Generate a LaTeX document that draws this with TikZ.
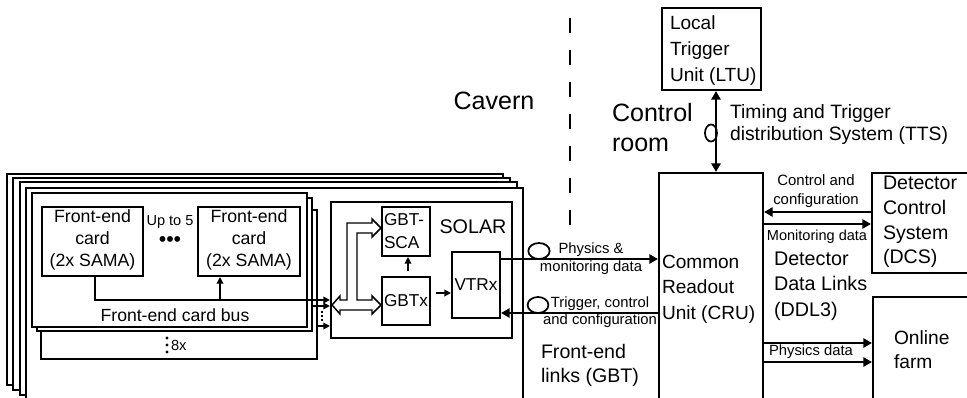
\documentclass[tikz,border=0pt]{standalone}
\usepackage{fontspec}
\setmainfont{Liberation Sans}
\usetikzlibrary{arrows.meta,fit,calc}
\newcommand\fsz[2]{\fontsize{#1pt}{#2pt}\selectfont}
\begin{document}
\begin{tikzpicture}[x=0.75pt,y=-0.75pt,
  box/.style={draw, line width=1.6pt, fill=white, inner sep=0pt},
  arr/.style={line width=1.5pt, -{Triangle[length=6.5pt,width=7pt]}},
  darr/.style={line width=1.5pt, {Triangle[length=6.5pt,width=7pt]}-{Triangle[length=6.5pt,width=7pt]}},
  sarr/.style={line width=1.3pt, -{Triangle[length=5pt,width=5pt]}},
  txt/.style={inner sep=0pt, outer sep=0pt},
  pipe/.style={draw, line width=1.1pt, fill=white, line join=miter},
  link/.style={draw, line width=1.3pt}
]
\useasboundingbox (0,0) rectangle (967,397);
\clip (0,0) rectangle (967,397);
\fill[white] (0,0) rectangle (967,397);

% big stacked boxes (cavern crates)
\node[box, fit={(7,174) (503,385)}] (bigA) {};
\node[box, fit={(13,178) (510,390)}] (bigB) {};
\node[box, fit={(20,182) (517,395)}] (bigC) {};
\node[box, fit={(26,188) (523,410)}] (bigD) {};

% cavern / control room separation
\draw[line width=1.5pt, dash pattern=on 11.25pt off 12.75pt] (570,18) -- (570,225);

% front-end stacks
\node[box, fit={(41,210) (317,359)}] (fe3) {};
\node[box, fit={(37,198) (312,331)}] (fe2) {};
\node[box, fit={(32,193) (307,327)}] (fe1) {};

% front-end cards
\node[box, fit={(42,207) (143,276)}] (card1) {};
\node[box, fit={(198,207) (300,276)}] (card2) {};
\node[txt, font=\fsz{13.3}{16.5}, align=center] (card1t) at (92.5,240) {Front-end\\card\\(2x SAMA)};
\node[txt, font=\fsz{13.3}{16.5}, align=center] (card2t) at (249,240) {Front-end\\card\\(2x SAMA)};
\node[txt, font=\fsz{10.9}{13}] (upto) at (170,222) {Up to 5};
\node[txt, font=\fsz{16}{18}] (dots) at (170,242) {•••};
\node[txt, font=\fsz{13.2}{16}] (bust) at (175,315) {Front-end card bus};
\fill (167,338) circle[radius=1.3pt] (167,345) circle[radius=1.3pt] (167,352) circle[radius=1.3pt];
\node[txt, font=\fsz{11}{13}, anchor=west] (eightx) at (171,345) {8x};

% SOLAR
\node[box, fit={(331,202) (512,338)}] (solar) {};
\node[txt, font=\fsz{14.8}{17}] (solart) at (473,227) {SOLAR};
\node[box, fit={(382,207) (430,256)}] (gbtsca) {};
\node[txt, font=\fsz{12.9}{17.25}, align=left, anchor=west] (gbtscat) at (384,231) {GBT-\\SCA};
\node[box, fit={(382,277) (430,325)}] (gbtx) {};
\node[txt, font=\fsz{12.9}{15}] (gbtxt) at (406,301) {GBTx};
\node[box, fit={(452,252) (500,318)}] (vtrx) {};
\node[txt, font=\fsz{12.9}{15}] (vtrxt) at (476,285) {VTRx};

% hollow bus pipe
\path[pipe] (332,305) -- (340,296) -- (340,300) -- (347,300) -- (347,223) -- (372,223)
  -- (372,219) -- (381,228) -- (372,237) -- (372,233) -- (357,233) -- (357,300)
  -- (372,300) -- (372,296) -- (381,305) -- (372,314) -- (372,310) -- (340,310)
  -- (340,314) -- cycle;

% card bus connections
\coordinate (br) at (220,300);
\draw[sarr] (card1.south -| 95,0) -- (95,300) -- (solar.west |- 0,300);
\draw[sarr] (br) -- (br |- card2.south);
\draw[sarr] (fe2.east |- 0,306) -- (solar.west |- 0,306);
\draw[sarr] (fe3.east |- 0,326) -- (solar.west |- 0,326);
\draw[line width=1.3pt, dash pattern=on 1.5pt off 1.5pt] (322,311) -- (322,322);

% inside SOLAR
\draw[sarr, shorten <=3.5pt] (gbtx.north -| 408,0) -- (gbtsca.south -| 408,0);
\draw[sarr, shorten <=3.5pt] (gbtx.east |- 0,293) -- (vtrx.west |- 0,293);

% control room boxes
\node[box, fit={(659,173) (763,420)}] (cru) {};
\node[txt, font=\fsz{14.3}{19}, align=left, anchor=west] (crut) at (662,289) {Common\\Readout\\Unit (CRU)};
\node[box, fit={(662,8) (761,90)}] (ltu) {};
\node[txt, font=\fsz{14.3}{19.5}, align=left, anchor=west] (ltut) at (670,51) {Local\\Trigger\\Unit (LTU)};
\node[box, fit={(872,173) (980,273)}] (dcs) {};
\node[txt, font=\fsz{14.7}{18.5}, align=left, anchor=west] (dcst) at (883,222) {Detector\\Control\\System\\(DCS)};
\node[box, fit={(873,297) (980,420)}] (farm) {};
\node[txt, font=\fsz{14.4}{18}, align=left, anchor=west] (farmt) at (894,350) {Online\\farm};

% labels
\node[txt, font=\fsz{18.8}{22.5}] (cavern) at (494,101) {Cavern};
\node[txt, font=\fsz{18.8}{22.5}, align=left, anchor=west] (ctrlroom) at (612,128) {Control\\room};
\node[txt, font=\fsz{14.5}{16.5}, align=left, anchor=west] (tts) at (730,124) {Timing and Trigger\\distribution System (TTS)};
\node[txt, font=\fsz{14.8}{19}, align=left, anchor=west] (ddl) at (774,286) {Detector\\Data Links\\(DDL3)};
\node[txt, font=\fsz{14.7}{18}, align=left, anchor=west] (fel) at (541,365) {Front-end\\links (GBT)};
\node[txt, font=\fsz{11.2}{14.25}, align=center] (ctrlcfg) at (816,191) {Control and\\configuration};
\node[txt, font=\fsz{10.9}{13}] (mon) at (817,237) {Monitoring data};
\node[txt, font=\fsz{11.1}{13}] (physd) at (811,352) {Physics data};
\node[txt, font=\fsz{11.1}{13.5}, align=center] (physmon) at (591,259) {Physics \&\\monitoring data};
\node[txt, font=\fsz{11.1}{12.75}, align=center] (trig) at (600,312.5) {Trigger, control\\and configuration};

% links
\draw[darr] (ltu.south -| 716,0) -- (cru.north -| 716,0);
\draw[link] (711,133) ellipse[x radius=4.5pt, y radius=6.4pt];
\draw[arr] (vtrx.east |- 0,259) -- (cru.west |- 0,259);
\draw[link] (539,251) ellipse[x radius=8pt, y radius=6pt];
\draw[arr] (cru.west |- 0,313) -- (vtrx.east |- 0,313);
\draw[link] (538,305) ellipse[x radius=7.8pt, y radius=6pt];
\draw[arr] (dcs.west |- 0,212) -- (cru.east |- 0,212);
\draw[arr] (cru.east |- 0,224) -- (dcs.west |- 0,224);
\draw[arr] (cru.east |- 0,343) -- (farm.west |- 0,343);
\draw[arr] (cru.east |- 0,362) -- (farm.west |- 0,362);
\end{tikzpicture}
\end{document}
